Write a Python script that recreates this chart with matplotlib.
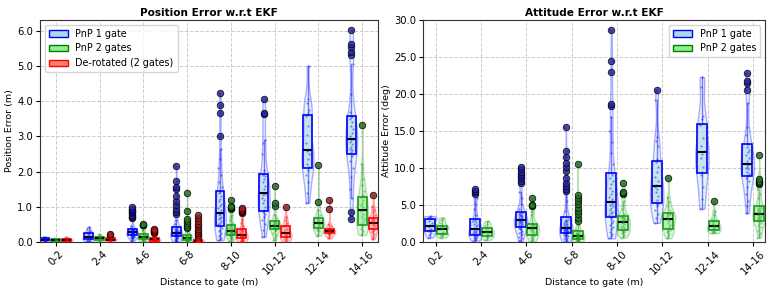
import numpy as np
import matplotlib
matplotlib.use("Agg")
import matplotlib.pyplot as plt
from matplotlib.patches import Patch
from matplotlib.colors import to_rgba

# distance bins
bins = ["0-2", "2-4", "4-6", "6-8", "8-10", "10-12", "12-14", "14-16"]

# position error (m) samples per bin
pos_pnp1 = [
    [0.01, 0.03, 0.04, 0.05, 0.06, 0.07, 0.07, 0.08, 0.09, 0.10, 0.11, 0.13, 0.15],
    [0.02, 0.04, 0.06, 0.07, 0.09, 0.11, 0.13, 0.15, 0.16, 0.19, 0.22, 0.25, 0.27, 0.31, 0.36, 0.43],
    [0.03, 0.06, 0.08, 0.10, 0.12, 0.13, 0.14, 0.15, 0.16, 0.17, 0.18, 0.19, 0.20, 0.21, 0.22,
     0.23, 0.24, 0.24, 0.25, 0.25, 0.26, 0.27, 0.27, 0.28, 0.29, 0.30, 0.31, 0.32, 0.33, 0.34,
     0.35, 0.35, 0.36, 0.45, 0.68, 0.72, 0.75, 0.78, 0.81, 0.84, 0.87, 0.90, 0.94, 0.98],
    [0.01, 0.02, 0.04, 0.05, 0.07, 0.08, 0.09, 0.11, 0.12, 0.13, 0.15, 0.16, 0.17, 0.18, 0.19,
     0.20, 0.20, 0.21, 0.22, 0.22, 0.23, 0.23, 0.24, 0.25, 0.25, 0.26, 0.28, 0.29, 0.30, 0.31,
     0.32, 0.34, 0.35, 0.36, 0.38, 0.39, 0.50, 0.62, 0.80, 0.86, 0.95, 1.05, 1.15, 1.30, 1.50,
     1.55, 1.72, 2.15],
    [0.05, 0.08, 0.12, 0.16, 0.20, 0.25, 0.30, 0.35, 0.40, 0.44, 0.46, 0.50, 0.55, 0.60, 0.64,
     0.68, 0.72, 0.76, 0.80, 0.81, 0.84, 0.90, 0.96, 1.02, 1.08, 1.15, 1.22, 1.30, 1.38, 1.43,
     1.55, 1.70, 1.90, 2.10, 2.35, 2.65, 3.00, 3.65, 3.90, 4.22],
    [0.15, 0.35, 0.50, 0.62, 0.72, 0.80, 0.86, 0.90, 1.00, 1.10, 1.18, 1.25, 1.32, 1.36, 1.40,
     1.50, 1.60, 1.70, 1.78, 1.86, 1.90, 2.05, 2.50, 2.80, 2.90, 3.62, 3.65, 4.05],
    [1.12, 1.40, 1.70, 1.90, 2.05, 2.12, 2.20, 2.35, 2.50, 2.58, 2.62, 2.80, 3.05, 3.30, 3.58,
     3.65, 3.75, 3.95, 4.05, 5.00],
    [0.65, 0.85, 1.25, 1.50, 1.85, 2.10, 2.30, 2.45, 2.50, 2.55, 2.60, 2.65, 2.70, 2.78, 2.85,
     2.90, 2.92, 3.00, 3.10, 3.20, 3.30, 3.40, 3.48, 3.55, 3.58, 3.70, 4.20, 5.05, 5.32, 5.39,
     5.53, 5.63, 6.02],
]
pos_pnp2 = [
    [0.01, 0.02, 0.03, 0.03, 0.04, 0.05, 0.05, 0.06, 0.07, 0.08, 0.09, 0.10],
    [0.01, 0.03, 0.05, 0.06, 0.08, 0.09, 0.10, 0.11, 0.13, 0.14, 0.16, 0.18, 0.22],
    [0.01, 0.02, 0.04, 0.05, 0.06, 0.07, 0.08, 0.09, 0.10, 0.11, 0.12, 0.13, 0.14, 0.15, 0.15,
     0.16, 0.17, 0.18, 0.19, 0.20, 0.22, 0.28, 0.33, 0.38, 0.47, 0.48, 0.49, 0.50],
    [0.00, 0.01, 0.01, 0.02, 0.02, 0.03, 0.04, 0.04, 0.05, 0.06, 0.06, 0.07, 0.07, 0.08, 0.08,
     0.09, 0.09, 0.09, 0.10, 0.10, 0.10, 0.11, 0.11, 0.12, 0.13, 0.13, 0.14, 0.15, 0.16, 0.17,
     0.25, 0.31, 0.39, 0.43, 0.49, 0.55, 0.60, 0.65, 0.88, 1.40],
    [0.02, 0.05, 0.08, 0.10, 0.12, 0.14, 0.16, 0.18, 0.19, 0.21, 0.22, 0.24, 0.25, 0.26, 0.27,
     0.28, 0.29, 0.30, 0.32, 0.33, 0.35, 0.37, 0.39, 0.41, 0.43, 0.45, 0.47, 0.55, 0.62, 0.70,
     0.78, 0.94, 0.96, 0.99, 1.02, 1.19],
    [0.05, 0.12, 0.20, 0.26, 0.31, 0.35, 0.37, 0.39, 0.41, 0.43, 0.45, 0.46, 0.47, 0.49, 0.51,
     0.53, 0.55, 0.58, 0.60, 0.68, 0.78, 1.02, 1.10, 1.60],
    [0.18, 0.24, 0.30, 0.35, 0.38, 0.40, 0.43, 0.46, 0.50, 0.52, 0.54, 0.57, 0.60, 0.63, 0.66,
     0.70, 0.78, 0.90, 1.14, 2.18],
    [0.20, 0.25, 0.30, 0.36, 0.42, 0.47, 0.50, 0.56, 0.64, 0.72, 0.80, 0.88, 0.92, 0.98, 1.05,
     1.12, 1.20, 1.27, 1.32, 1.45, 1.62, 1.78, 2.20, 3.31],
]
pos_derot = [
    [0.01, 0.02, 0.03, 0.04, 0.05, 0.06, 0.06, 0.07, 0.08, 0.09, 0.11, 0.15],
    [0.00, 0.02, 0.03, 0.04, 0.05, 0.06, 0.07, 0.07, 0.08, 0.09, 0.10, 0.12, 0.14, 0.21, 0.23],
    [0.00, 0.01, 0.01, 0.02, 0.02, 0.03, 0.03, 0.03, 0.04, 0.04, 0.04, 0.05, 0.05, 0.06, 0.06,
     0.07, 0.07, 0.07, 0.08, 0.08, 0.08, 0.09, 0.09, 0.10, 0.10, 0.10, 0.11, 0.11, 0.12, 0.12,
     0.15, 0.19, 0.22, 0.26, 0.27, 0.29, 0.31, 0.33, 0.35, 0.37],
    [0.00, 0.00, 0.00, 0.00, 0.00, 0.00, 0.00, 0.00, 0.00, 0.00, 0.00, 0.00, 0.01, 0.01, 0.01,
     0.01, 0.01, 0.01, 0.01, 0.01, 0.02, 0.02, 0.02, 0.02, 0.02, 0.02, 0.03, 0.03, 0.03, 0.03,
     0.04, 0.04, 0.04, 0.05, 0.05, 0.05, 0.08, 0.11, 0.14, 0.20, 0.26, 0.32, 0.38, 0.45, 0.52,
     0.60, 0.68, 0.76],
    [0.00, 0.01, 0.02, 0.03, 0.05, 0.06, 0.07, 0.08, 0.09, 0.11, 0.12, 0.13, 0.14, 0.15, 0.16,
     0.17, 0.18, 0.19, 0.21, 0.22, 0.24, 0.26, 0.28, 0.30, 0.32, 0.34, 0.36, 0.45, 0.55, 0.65,
     0.81, 0.84, 0.87, 0.90, 0.93, 0.96],
    [0.00, 0.03, 0.06, 0.09, 0.12, 0.14, 0.16, 0.19, 0.22, 0.24, 0.26, 0.29, 0.33, 0.38, 0.44,
     0.48, 0.55, 0.63, 0.72, 0.98],
    [0.10, 0.15, 0.19, 0.22, 0.24, 0.26, 0.27, 0.28, 0.29, 0.30, 0.32, 0.33, 0.34, 0.35, 0.36,
     0.38, 0.45, 0.52, 0.93, 1.19],
    [0.08, 0.15, 0.22, 0.28, 0.32, 0.35, 0.37, 0.41, 0.45, 0.48, 0.51, 0.54, 0.56, 0.58, 0.60,
     0.62, 0.64, 0.66, 0.70, 0.76, 0.84, 0.92, 1.02, 1.33],
]

# attitude error (deg) samples per bin
att_pnp1 = [
    [0.6, 0.9, 1.2, 1.45, 1.6, 1.8, 2.0, 2.3, 2.6, 2.9, 3.2, 3.3, 3.4, 3.5],
    [0.2, 0.3, 0.4, 0.5, 0.6, 0.7, 0.8, 0.85, 0.95, 1.05, 1.15, 1.25, 1.35, 1.45, 1.55, 1.7,
     1.8, 1.95, 2.1, 2.3, 2.5, 2.7, 2.85, 3.0, 3.6, 4.4, 5.2, 5.9, 6.55, 6.75, 6.95, 7.1],
    [0.1, 0.3, 0.5, 0.7, 0.9, 1.1, 1.25, 1.4, 1.55, 1.7, 1.8, 1.95, 2.05, 2.15, 2.25, 2.35,
     2.45, 2.55, 2.6, 2.7, 2.75, 2.8, 2.9, 2.95, 3.05, 3.1, 3.2, 3.3, 3.4, 3.5, 3.55, 3.6, 3.7,
     3.8, 3.9, 3.95, 4.5, 5.2, 6.0, 6.8, 8.0, 8.3, 8.6, 8.9, 9.2, 9.5, 9.8, 10.1],
    [0.05, 0.15, 0.25, 0.35, 0.45, 0.55, 0.65, 0.75, 0.85, 0.9, 0.95, 1.0, 1.1, 1.15, 1.2,
     1.25, 1.3, 1.35, 1.4, 1.45, 1.5, 1.55, 1.6, 1.65, 1.7, 1.75, 1.8, 1.82, 1.88, 1.95, 2.0,
     2.1, 2.2, 2.3, 2.4, 2.5, 2.6, 2.7, 2.8, 2.9, 3.0, 3.1, 4.2, 5.5, 6.6, 6.9, 7.2, 7.6, 8.0,
     8.6, 9.6, 10.1, 10.7, 11.5, 12.3, 15.6],
    [0.5, 0.8, 1.1, 1.4, 1.7, 2.0, 2.3, 2.6, 2.9, 3.2, 3.5, 3.7, 3.9, 4.1, 4.3, 4.6, 4.8, 5.0,
     5.2, 5.4, 5.5, 5.8, 6.1, 6.5, 6.9, 7.3, 7.8, 8.3, 8.6, 9.0, 10.5, 12.0, 13.5, 15.0, 16.9,
     18.4, 18.7, 23.0, 24.4, 28.7],
    [2.6, 3.2, 3.8, 4.3, 4.8, 5.1, 5.3, 5.7, 6.2, 6.7, 7.2, 7.5, 7.7, 8.2, 8.8, 9.5, 10.2,
     10.8, 11.2, 13.0, 13.6, 14.2, 19.2, 20.5],
    [4.5, 5.8, 7.5, 9.0, 9.4, 10.2, 11.3, 11.9, 12.3, 13.0, 14.0, 15.8, 16.6, 17.0, 21.0, 22.3],
    [3.9, 4.8, 5.6, 6.5, 7.4, 8.2, 8.7, 8.9, 9.2, 9.5, 9.8, 10.0, 10.2, 10.4, 10.6, 10.9, 11.3,
     11.7, 12.1, 12.5, 12.8, 13.2, 14.5, 15.5, 18.8, 20.6, 21.5, 21.7, 22.8],
]
att_pnp2 = [
    [0.6, 0.8, 1.0, 1.1, 1.2, 1.4, 1.7, 1.9, 2.0, 2.1, 2.25, 2.6, 3.0, 3.3],
    [0.3, 0.5, 0.7, 0.85, 0.95, 1.1, 1.3, 1.4, 1.55, 1.7, 1.95, 2.2, 2.5, 2.8],
    [0.1, 0.25, 0.4, 0.55, 0.7, 0.8, 0.9, 1.0, 1.15, 1.3, 1.45, 1.6, 1.75, 1.82, 1.88, 1.95,
     2.05, 2.15, 2.25, 2.35, 2.45, 2.6, 3.6, 4.2, 4.85, 4.95, 5.05, 5.9],
    [0.0, 0.05, 0.1, 0.15, 0.2, 0.25, 0.3, 0.32, 0.35, 0.38, 0.4, 0.43, 0.47, 0.5, 0.53, 0.56,
     0.6, 0.63, 0.66, 0.69, 0.72, 0.74, 0.76, 0.77, 0.79, 0.82, 0.86, 0.9, 0.94, 0.98, 1.02,
     1.07, 1.12, 1.18, 1.24, 1.3, 1.8, 2.3, 2.9, 3.3, 3.75, 4.2, 4.65, 5.1, 5.55, 6.0, 6.4, 10.6],
    [0.6, 0.8, 1.0, 1.15, 1.25, 1.35, 1.45, 1.5, 1.6, 1.75, 1.9, 2.05, 2.2, 2.4, 2.6, 2.7, 2.8,
     2.9, 3.0, 3.1, 3.2, 3.3, 3.38, 3.43, 3.8, 4.4, 5.0, 5.6, 6.5, 6.62, 6.75, 7.96],
    [0.5, 0.8, 1.1, 1.3, 1.5, 1.65, 1.75, 2.0, 2.3, 2.6, 2.85, 3.05, 3.15, 3.3, 3.45, 3.6,
     3.75, 3.88, 3.95, 4.3, 4.8, 5.4, 6.1, 8.7],
    [1.2, 1.3, 1.4, 1.5, 1.58, 1.7, 1.85, 2.0, 2.15, 2.25, 2.35, 2.5, 2.7, 2.8, 3.1, 3.6, 4.2, 5.6],
    [0.6, 0.9, 1.2, 1.5, 1.8, 2.0, 2.2, 2.4, 2.6, 2.8, 2.9, 3.0, 3.1, 3.2, 3.3, 3.4, 3.5, 3.6,
     3.7, 3.78, 3.82, 3.9, 4.0, 4.1, 4.2, 4.3, 4.45, 4.55, 4.65, 4.8, 4.9, 5.9, 6.5, 7.1, 7.8,
     8.0, 8.15, 8.3, 8.45, 11.8],
]

BLUE = ("blue", "lightblue", "#2b2b9a")
GREEN = ("#1f9a1f", "lightgreen", "#236b23")
RED = ("red", "#ff9a9a", "#8a2222")

plt.rcParams["font.family"] = "DejaVu Sans"
plt.rcParams["font.size"] = 6.8
plt.rcParams["xtick.labelsize"] = 7.3
plt.rcParams["ytick.labelsize"] = 7.2
plt.rcParams["xtick.major.pad"] = 2
plt.rcParams["ytick.major.pad"] = 2
plt.rcParams["xtick.major.size"] = 3
plt.rcParams["ytick.major.size"] = 3


def draw_groups(ax, series, styles, offsets, bw):
    x0 = np.arange(len(bins))
    for data, (edge, fill, dark), off in zip(series, styles, offsets):
        pos = x0 + off
        vp = ax.violinplot(data, positions=pos, widths=bw * 1.35,
                           showextrema=False, bw_method=0.35)
        for body in vp["bodies"]:
            body.set_facecolor(to_rgba(fill, 0.5))
            body.set_edgecolor(to_rgba(edge, 0.45))
            body.set_linewidth(1.0)
        ax.boxplot(data, positions=pos, widths=bw, patch_artist=True,
                   manage_ticks=False, showcaps=False,
                   boxprops=dict(facecolor=to_rgba(fill, 0.55), edgecolor=edge, linewidth=1.2),
                   medianprops=dict(color="black", linewidth=1.5),
                   whiskerprops=dict(color=edge, linewidth=1.0, alpha=0.5),
                   flierprops=dict(marker="o", markerfacecolor=dark, markeredgecolor="black",
                                   markersize=4.7, markeredgewidth=0.6, alpha=0.85))
        for p, vals in zip(pos, data):
            n = len(vals)
            jit = ((np.arange(n) * 37) % 11 - 5) / 5.0 * bw * 0.18
            ax.scatter(p + jit, vals, s=2.5, color=edge, alpha=0.45, zorder=4, linewidths=0)
    ax.set_xticks(x0)
    ax.set_xticklabels(bins, rotation=45)
    ax.grid(True, linestyle="--", color="#cccccc", linewidth=0.7)
    ax.set_axisbelow(True)
    for s in ax.spines.values():
        s.set_color("#333333")
    ax.set_xlabel("Distance to gate (m)", labelpad=1)


fig = plt.figure(figsize=(7.77, 2.92), dpi=100)
ax1 = fig.add_axes([40 / 777, 50 / 292, 338 / 777, 222 / 292])
ax2 = fig.add_axes([423 / 777, 50 / 292, 342 / 777, 222 / 292])

draw_groups(ax1, [pos_pnp1, pos_pnp2, pos_derot], [BLUE, GREEN, RED], [-0.25, 0.0, 0.25], 0.2)
ax1.set_xlim(-0.36, 7.36)
ax1.set_ylim(0, 6.3)
ax1.set_yticks(np.arange(0, 7, 1.0))
ax1.yaxis.set_major_formatter(matplotlib.ticker.FormatStrFormatter("%.1f"))
ax1.set_ylabel("Position Error (m)", labelpad=2)
ax1.set_title("Position Error w.r.t EKF", fontweight="bold", fontsize=7.6, pad=3)
ax1.legend(handles=[Patch(facecolor="lightblue", edgecolor="blue", label="PnP 1 gate"),
                    Patch(facecolor="lightgreen", edgecolor="green", label="PnP 2 gates"),
                    Patch(facecolor="salmon", edgecolor="red", label="De-rotated (2 gates)")],
           loc="upper left", fontsize=6.9)

draw_groups(ax2, [att_pnp1, att_pnp2], [BLUE, GREEN], [-0.13, 0.13], 0.22)
ax2.set_xlim(-0.28, 7.26)
ax2.set_ylim(0, 30)
ax2.set_yticks(np.arange(0, 31, 5.0))
ax2.yaxis.set_major_formatter(matplotlib.ticker.FormatStrFormatter("%.1f"))
ax2.set_ylabel("Attitude Error (deg)", labelpad=2)
ax2.set_title("Attitude Error w.r.t EKF", fontweight="bold", fontsize=7.6, pad=3)
ax2.legend(handles=[Patch(facecolor="lightblue", edgecolor="blue", label="PnP 1 gate"),
                    Patch(facecolor="lightgreen", edgecolor="green", label="PnP 2 gates")],
           loc="upper right", fontsize=6.9)

fig.savefig("out.png", dpi=100)
